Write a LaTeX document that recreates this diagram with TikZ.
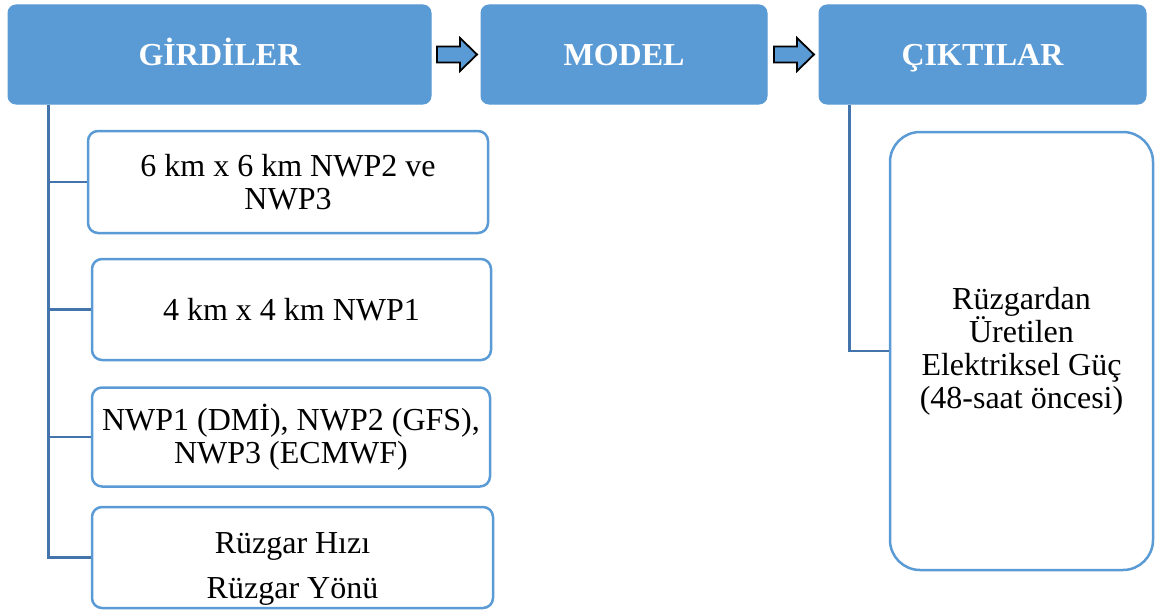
\documentclass[tikz,border=0pt]{standalone}
\usepackage{fontspec}
\setmainfont{Liberation Serif}
\usetikzlibrary{calc}
\definecolor{hdrblue}{HTML}{5B9BD5}
\definecolor{linkblue}{HTML}{4374AC}
\tikzset{
  header/.style={draw=hdrblue, fill=hdrblue, rounded corners=8pt, line width=1pt,
    inner sep=0pt, text=white, text height=22pt, text depth=0pt,
    font=\fontsize{32}{33}\selectfont\bfseries},
  itembox/.style={draw=hdrblue, fill=white, rounded corners=10pt, line width=2.5pt,
    inner sep=0pt, align=center, font=\fontsize{32}{33}\selectfont},
  itemtext/.style={inner sep=0pt, align=center, font=\fontsize{32}{33}\selectfont},
  trunk/.style={draw=linkblue, line width=2.5pt},
  blockarrow/.style={draw=black, fill=hdrblue, line width=1.8pt, line join=miter}
}
\begin{document}
\begin{tikzpicture}[x=1pt,y=-1pt]
  \useasboundingbox (0,0) rectangle (1158,610);

  % column headers
  \node[header, minimum width=423pt, minimum height=99pt] (gir) at (219.5,54.5) {GİRDİLER};
  \node[header, minimum width=286pt, minimum height=99pt] (mod) at (624,54.5) {MODEL};
  \node[header, minimum width=327pt, minimum height=99pt] (cik) at (982.5,54.5) {ÇIKTILAR};

  % block arrows between the headers
  \coordinate (a1) at ($(gir.east)!0.5!(mod.west)+(1,0)$);
  \coordinate (a2) at ($(mod.east)!0.5!(cik.west)+(1,0)$);
  \foreach \c in {a1,a2}{
    \draw[blockarrow] ($(\c)+(-20,-8)$) -- ++(23,0) -- ++(0,-8.5) -- ++(17,16.5)
      -- ++(-17,16.5) -- ++(0,-8.5) -- ++(-23,0) -- cycle;
  }

  % inputs
  \node[itembox, minimum width=400pt, minimum height=102pt] (b1) at (288,182)
    {6 km x 6 km NWP2 ve\\NWP3};
  \node[itembox, minimum width=399pt, minimum height=101pt] (b2) at (291.5,309.5)
    {4 km x 4 km NWP1};
  \node[itembox, minimum width=398pt, minimum height=99pt] (b3) at (291,437)
    {NWP1 (DMİ), NWP2 (GFS),\\NWP3 (ECMWF)};
  \node[itembox, minimum width=401pt, minimum height=101pt] (b4) at (292.5,557.5) {};
  \node[itemtext] (b4t) at ($(b4.center)+(0,11)$) {Rüzgar Hızı\\[12pt]Rüzgar Yönü};

  % output
  \node[itembox, rounded corners=30pt, minimum width=263pt, minimum height=438pt] (out)
    at (1021.5,351) {Rüzgardan\\Üretilen\\Elektriksel Güç\\(48-saat öncesi)};

  % connectors
  \coordinate (t0) at ([xshift=41pt]gir.south west);
  \coordinate (t1) at ([xshift=31pt]cik.south west);
  \foreach \b in {b1,b2,b3,b4}{
    \draw[trunk] (t0) |- (\b.west);
  }
  \draw[trunk] (t1) |- (out.west);
\end{tikzpicture}
\end{document}
